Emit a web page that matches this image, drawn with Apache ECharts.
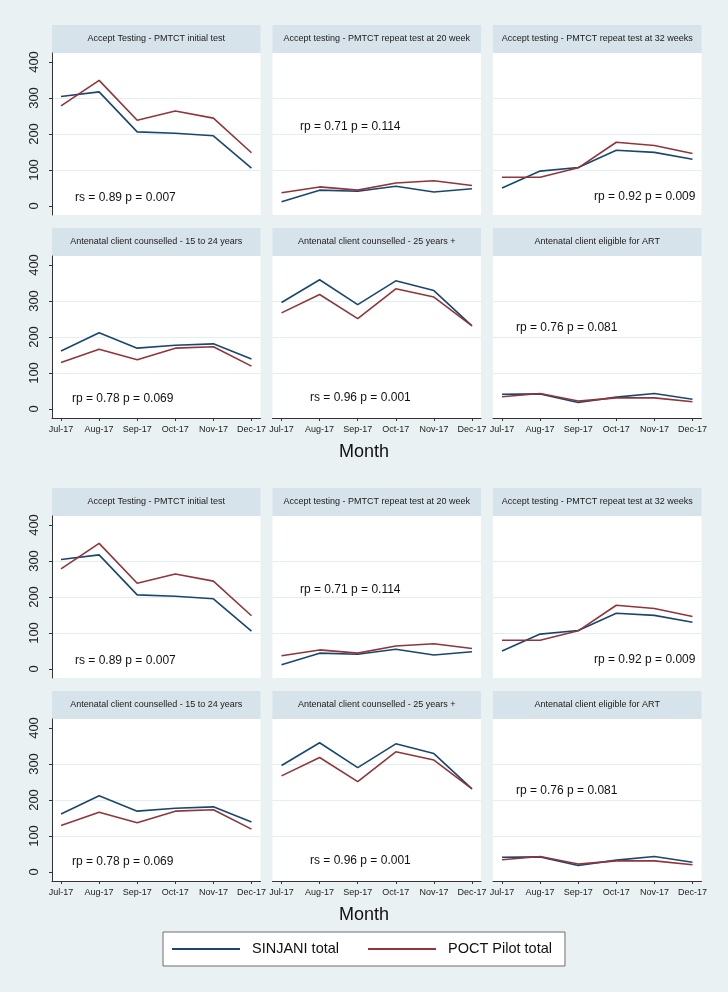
<!DOCTYPE html>
<html><head><meta charset="utf-8">
<script src="https://cdn.jsdelivr.net/npm/echarts@6/dist/echarts.min.js"></script>
<style>html,body{margin:0;padding:0;background:#e9f1f3}#c{width:728px;height:992px}</style>
</head><body><div id="c"></div>
<script>
// ---------- data ----------
const months = ['Jul-17', 'Aug-17', 'Sep-17', 'Oct-17', 'Nov-17', 'Dec-17'];
const panelTitles = [
  'Accept Testing - PMTCT initial test',
  'Accept testing - PMTCT repeat test at 20 week',
  'Accept testing - PMTCT repeat test at 32 weeks',
  'Antenatal client counselled - 15 to 24 years',
  'Antenatal client counselled - 25 years +',
  'Antenatal client eligible for ART'
];
const sinjaniInitial = [304, 317, 206, 202, 195, 105];
const poctInitial    = [278, 349, 238, 264, 244, 148];
const sinjaniRepeat20 = [12, 44, 41, 55, 39, 48];
const poctRepeat20    = [37, 53, 44, 64, 70, 57];
const sinjaniRepeat32 = [50, 97, 107, 155, 149, 130];
const poctRepeat32    = [80, 80, 106, 177, 168, 146];
const sinjaniCouns1524 = [161, 212, 169, 177, 181, 139];
const poctCouns1524    = [129, 166, 137, 169, 173, 119];
const sinjaniCouns25 = [296, 359, 290, 356, 329, 231];
const poctCouns25    = [267, 318, 251, 334, 311, 231];
const sinjaniEligible = [41, 42, 18, 33, 43, 27];
const poctEligible    = [34, 43, 22, 31, 31, 20];
const statLabels = [
  'rs = 0.89 p = 0.007', 'rp = 0.71 p = 0.114', 'rp = 0.92 p = 0.009',
  'rp = 0.78 p = 0.069', 'rs = 0.96 p = 0.001', 'rp = 0.76 p = 0.081'
];
const yTicks = [0, 100, 200, 300, 400];
const seriesNames = ['SINJANI total', 'POCT Pilot total'];
const xAxisTitle = 'Month';

const sinjaniSets = [sinjaniInitial, sinjaniRepeat20, sinjaniRepeat32, sinjaniCouns1524, sinjaniCouns25, sinjaniEligible];
const poctSets = [poctInitial, poctRepeat20, poctRepeat32, poctCouns1524, poctCouns25, poctEligible];

// ---------- layout ----------
const FONT = 'Liberation Sans, Arial, sans-serif';
const NAVY = '#1a476f', MAROON = '#90353b';
const colLeft = [52, 272.5, 493], colW = 208.5;
const blockTop = [25, 488], rowOff = [0, 203];
const headerH = 28, plotH = 162;
const statPos = [[23, 145], [27.5, 74], [101, 144], [20, 143], [37.5, 142], [23, 72]];

const grids = [], xAxes = [], yAxes = [], series = [], graphics = [];
let gi = 0;
for (let b = 0; b < 2; b++) {
  for (let r = 0; r < 2; r++) {
    for (let c = 0; c < 3; c++) {
      const p = r * 3 + c;
      const top = blockTop[b] + rowOff[r];
      graphics.push({type: 'rect', silent: true, z: 0,
        shape: {x: colLeft[c], y: top, width: colW, height: headerH},
        style: {fill: '#d7e3ea'}});
      graphics.push({type: 'text', silent: true, z: 1,
        x: colLeft[c] + colW / 2, y: top + headerH / 2,
        style: {text: panelTitles[p], font: '9px ' + FONT, fill: '#1a1a1a', align: 'center', verticalAlign: 'middle'}});
      graphics.push({type: 'text', silent: true, z: 10,
        x: colLeft[c] + statPos[p][0], y: top + headerH + statPos[p][1],
        style: {text: statLabels[p], font: '12px ' + FONT, fill: '#111', align: 'left', verticalAlign: 'middle'}});
      grids.push({left: colLeft[c], top: top + headerH, width: colW, height: plotH,
        show: true, backgroundColor: '#ffffff', borderWidth: 0});
      const showX = r === 1, showY = c === 0;
      xAxes.push({gridIndex: gi, type: 'value', min: -0.237, max: 5.237,
        axisLine: {show: showX, onZero: false, lineStyle: {color: '#333', width: 1}},
        axisTick: {show: showX, customValues: [0, 1, 2, 3, 4, 5], length: 3, lineStyle: {color: '#333'}},
        axisLabel: {show: showX, customValues: [0, 1, 2, 3, 4, 5], formatter: v => months[Math.round(v)],
          fontSize: 9, fontFamily: FONT, color: '#222', margin: 7},
        splitLine: {show: false}});
      yAxes.push({gridIndex: gi, type: 'value', min: -25, max: 425,
        axisLine: {show: showY, onZero: false, lineStyle: {color: '#333', width: 1}},
        axisTick: {show: showY, customValues: yTicks, length: 3, lineStyle: {color: '#333'}},
        axisLabel: {show: showY, customValues: yTicks, rotate: 90, fontSize: 13, fontFamily: FONT, color: '#222', margin: 11},
        splitLine: {show: true, showMinLine: false, showMaxLine: false, lineStyle: {color: '#e4edf0', width: 1.2}}});
      series.push({type: 'line', name: seriesNames[0], xAxisIndex: gi, yAxisIndex: gi,
        data: sinjaniSets[p].map((v, i) => [i, v]), symbol: 'none', showSymbol: false,
        lineStyle: {color: NAVY, width: 1.6}, itemStyle: {color: NAVY}, z: 3});
      series.push({type: 'line', name: seriesNames[1], xAxisIndex: gi, yAxisIndex: gi,
        data: poctSets[p].map((v, i) => [i, v]), symbol: 'none', showSymbol: false,
        lineStyle: {color: MAROON, width: 1.6}, itemStyle: {color: MAROON}, z: 4});
      gi++;
    }
    if (r === 1) {
      graphics.push({type: 'text', silent: true, x: 364, y: blockTop[b] + 427,
        style: {text: xAxisTitle, font: '18px ' + FONT, fill: '#111', align: 'center', verticalAlign: 'middle'}});
    }
  }
}

const chart = echarts.init(document.getElementById('c'), null, {renderer: 'canvas'});
chart.setOption({
  animation: false,
  backgroundColor: '#e9f1f3',
  grid: grids, xAxis: xAxes, yAxis: yAxes, series: series,
  graphic: graphics,
  legend: {
    data: seriesNames.map(n => ({name: n, icon: 'rect'})),
    left: 163, top: 932, orient: 'horizontal',
    padding: [9, 13, 9, 9], itemWidth: 68, itemHeight: 2, itemGap: 29,
    backgroundColor: '#ffffff', borderColor: '#6f6f6f', borderWidth: 1, borderRadius: 0,
    textStyle: {fontSize: 14.5, fontFamily: FONT, color: '#111', padding: [0, 0, 0, 7], lineHeight: 16}
  }
});
</script></body></html>
